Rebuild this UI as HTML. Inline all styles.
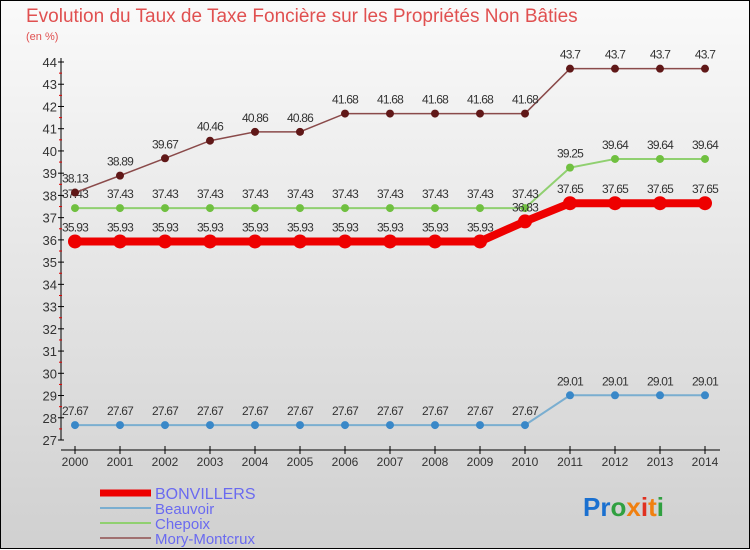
<!DOCTYPE html>
<html><head><meta charset="utf-8"><style>
body{margin:0}
#c{width:750px;height:550px;position:relative;overflow:hidden;font-family:"Liberation Sans",sans-serif}
</style></head><body>
<div id="c">
<svg id="s" width="750" height="550" xmlns="http://www.w3.org/2000/svg">
<defs><linearGradient id="bg" x1="0" y1="0" x2="0" y2="1"><stop offset="0" stop-color="#fafafa"/><stop offset="1" stop-color="#d0d0d0"/></linearGradient></defs>
<rect x="0.5" y="0.5" width="749" height="548" fill="url(#bg)" stroke="#000"/>
<text x="26" y="22" font-size="19" fill="#e05050">Evolution du Taux de Taxe Foncière sur les Propriétés Non Bâties</text>
<text x="26" y="40" font-size="11" fill="#e05050">(en %)</text>
<g id="axes"></g><g id="marks"></g>
<g>
<line x1="100" y1="493" x2="151" y2="493" stroke="#ee0000" stroke-width="7"/>
<text x="155" y="499" font-size="16" fill="#6a6af0">BONVILLERS</text>
<line x1="100" y1="508" x2="151" y2="508" stroke="#7aaed0" stroke-width="2"/>
<text x="155" y="514" font-size="15" fill="#6a6af0">Beauvoir</text>
<line x1="100" y1="523" x2="151" y2="523" stroke="#90d070" stroke-width="2"/>
<text x="155" y="529" font-size="15" fill="#6a6af0">Chepoix</text>
<line x1="100" y1="538" x2="151" y2="538" stroke="#a07070" stroke-width="2"/>
<text x="155" y="544" font-size="15" fill="#6a6af0">Mory-Montcrux</text>
</g>
<g font-size="26" font-weight="bold">
<text x="583" y="516"><tspan fill="#1a70d0">Pr</tspan><tspan fill="#30a040">o</tspan><tspan fill="#f08010">x</tspan><tspan fill="#e03020">i</tspan><tspan fill="#f08010">t</tspan><tspan fill="#30a040">i</tspan></text>
</g>
</svg></div>
<script>
const years=[2000,2001,2002,2003,2004,2005,2006,2007,2008,2009,2010,2011,2012,2013,2014];
const yTicks=[27,28,29,30,31,32,33,34,35,36,37,38,39,40,41,42,43,44];
const bonvillers=[35.93,35.93,35.93,35.93,35.93,35.93,35.93,35.93,35.93,35.93,36.83,37.65,37.65,37.65,37.65];
const beauvoir=[27.67,27.67,27.67,27.67,27.67,27.67,27.67,27.67,27.67,27.67,27.67,29.01,29.01,29.01,29.01];
const chepoix=[37.43,37.43,37.43,37.43,37.43,37.43,37.43,37.43,37.43,37.43,37.43,39.25,39.64,39.64,39.64];
const mory=[38.13,38.89,39.67,40.46,40.86,40.86,41.68,41.68,41.68,41.68,41.68,43.7,43.7,43.7,43.7];
const NS="http://www.w3.org/2000/svg";
const xs=i=>75+i*45;
const ys=v=>440-(v-27)*(378/17);
function mk(p,t,a){const e=document.createElementNS(NS,t);for(const k in a)e.setAttribute(k,a[k]);p.appendChild(e);return e;}
const ax=document.getElementById('axes'),mg=document.getElementById('marks');
let l=mk(ax,'line',{x1:61,y1:58,x2:61,y2:440,stroke:'#000'});


l=mk(ax,'line',{x1:61,y1:450,x2:720,y2:450,stroke:'#000'});


yTicks.forEach(v=>{const y=ys(v);
mk(ax,'line',{x1:58,y1:y,x2:64,y2:y,stroke:'#000'});
if(v<44)mk(ax,'line',{x1:59,y1:y-11.1,x2:62,y2:y-11.1,stroke:'#e00000'});
const t=mk(ax,'text',{x:57,y:y+5,'font-size':13,fill:'#333','text-anchor':'end'});t.textContent=v;

});
years.forEach((yr,i)=>{const x=xs(i);
mk(ax,'line',{x1:x,y1:446,x2:x,y2:454,stroke:'#000'});
const t=mk(ax,'text',{x:x,y:466,'font-size':12,fill:'#333','text-anchor':'middle'});t.textContent=yr;

});
function series(name,vals,lc,pc,lw,r){
const g=mk(mg,'g',{});


mk(g,'polyline',{points:vals.map((v,i)=>xs(i)+','+ys(v)).join(' '),fill:'none',stroke:lc,'stroke-width':lw});
vals.forEach((v,i)=>{const c=mk(g,'circle',{cx:xs(i),cy:ys(v),r:r,fill:pc});


const t=mk(g,'text',{x:xs(i),y:ys(v)-10,'font-size':12,fill:'#333','text-anchor':'middle','letter-spacing':'-0.8'});t.textContent=v;});}
series('beauvoir',beauvoir,'#7aaed0','#3a88c8',2,4);
series('chepoix',chepoix,'#90d070','#70c040',2,4);
series('mory-montcrux',mory,'#8a4a4a','#601818',1.5,4);
series('bonvillers',bonvillers,'#ee0000','#ee0000',8,7);
</script>
</body></html>
